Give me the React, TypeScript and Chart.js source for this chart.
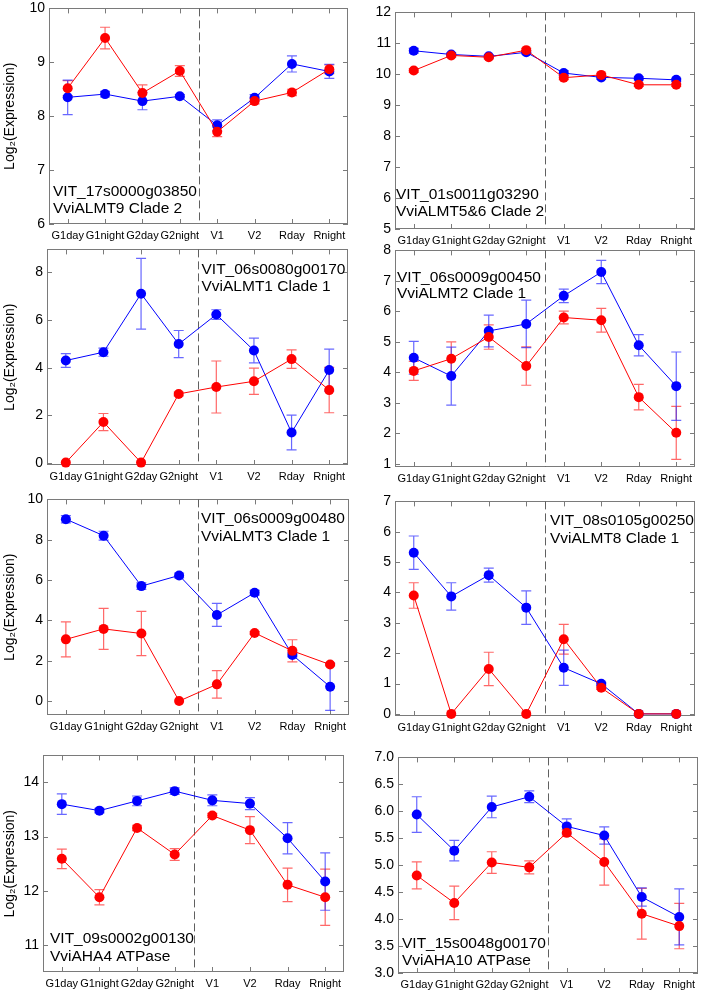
import React, { useEffect, useRef } from 'react';
import { Chart, registerables } from 'chart.js';

Chart.register(...registerables);

const FONT = '"Liberation Sans", Arial, Helvetica, sans-serif';

// ---------- data ----------
const categories = ['G1day', 'G1night', 'G2day', 'G2night', 'V1', 'V2', 'Rday', 'Rnight'];

// VIT_17s0000g03850 VviALMT9 Clade 2
const alm9Blue = [8.35, 8.41, 8.28, 8.37, 7.83, 8.34, 8.97, 8.83];
const alm9BlueErr = [0.32, 0.05, 0.16, 0.03, 0.1, 0.06, 0.15, 0.13];
const alm9Red = [8.52, 9.45, 8.43, 8.84, 7.71, 8.28, 8.44, 8.87];
const alm9RedErr = [0.14, 0.2, 0.15, 0.1, 0.09, 0.05, 0.06, 0.08];
const alm9Ticks = [6, 7, 8, 9, 10];

// VIT_01s0011g03290 VviALMT5&6 Clade 2
const alm56Blue = [10.76, 10.64, 10.58, 10.71, 10.04, 9.9, 9.87, 9.82];
const alm56BlueErr = [0.08, 0.05, 0.05, 0.05, 0.08, 0.06, 0.05, 0.05];
const alm56Red = [10.12, 10.61, 10.55, 10.78, 9.89, 9.98, 9.66, 9.66];
const alm56RedErr = [0.06, 0.06, 0.05, 0.06, 0.06, 0.05, 0.05, 0.05];
const alm56Ticks = [5, 6, 7, 8, 9, 10, 11, 12];

// VIT_06s0080g00170 VviALMT1 Clade 1
const alm1Blue = [4.3, 4.65, 7.1, 4.99, 6.23, 4.72, 1.28, 3.9];
const alm1BlueErr = [0.29, 0.17, 1.48, 0.57, 0.2, 0.52, 0.73, 0.88];
const alm1Red = [0.02, 1.72, 0.02, 2.9, 3.19, 3.43, 4.36, 3.06];
const alm1RedErr = [0, 0.36, 0, 0.08, 1.09, 0.55, 0.39, 0.95];
const alm1Ticks = [0, 2, 4, 6, 8];

// VIT_06s0009g00450 VviALMT2 Clade 1
const alm2Blue = [4.48, 3.88, 5.36, 5.59, 6.51, 7.29, 4.89, 3.55];
const alm2BlueErr = [0.54, 0.95, 0.52, 0.78, 0.22, 0.38, 0.35, 1.12];
const alm2Red = [4.05, 4.45, 5.16, 4.21, 5.8, 5.71, 3.19, 2.02];
const alm2RedErr = [0.31, 0.55, 0.4, 0.63, 0.21, 0.39, 0.42, 0.87];
const alm2Ticks = [1, 2, 3, 4, 5, 6, 7, 8];

// VIT_06s0009g00480 VviALMT3 Clade 1
const alm3Blue = [9.02, 8.2, 5.7, 6.23, 4.27, 5.37, 2.29, 0.71];
const alm3BlueErr = [0.18, 0.22, 0.16, 0.12, 0.57, 0.12, 0.1, 1.17];
const alm3Red = [3.06, 3.58, 3.35, 0, 0.83, 3.38, 2.49, 1.81];
const alm3RedErr = [0.87, 1.02, 1.1, 0, 0.68, 0.07, 0.55, 0.05];
const alm3Ticks = [0, 2, 4, 6, 8, 10];

// VIT_08s0105g00250 VviALMT8 Clade 1
const alm8Blue = [5.31, 3.87, 4.57, 3.5, 1.52, 0.99, 0, 0];
const alm8BlueErr = [0.55, 0.45, 0.23, 0.55, 0.58, 0.05, 0, 0];
const alm8Red = [3.9, 0, 1.48, 0, 2.46, 0.86, 0, 0];
const alm8RedErr = [0.42, 0, 0.55, 0, 0.49, 0.05, 0, 0];
const alm8Ticks = [0, 1, 2, 3, 4, 5, 6, 7];

// VIT_09s0002g00130 VviAHA4 ATPase
const aha4Blue = [13.6, 13.48, 13.66, 13.84, 13.67, 13.61, 12.97, 12.17];
const aha4BlueErr = [0.19, 0.04, 0.09, 0.06, 0.1, 0.11, 0.29, 0.53];
const aha4Red = [12.59, 11.88, 13.16, 12.67, 13.39, 13.12, 12.11, 11.88];
const aha4RedErr = [0.18, 0.14, 0.05, 0.11, 0.04, 0.25, 0.31, 0.52];
const aha4Ticks = [11, 12, 13, 14];

// VIT_15s0048g00170 VviAHA10 ATPase
const aha10Blue = [5.94, 5.27, 6.08, 6.27, 5.72, 5.55, 4.41, 4.04];
const aha10BlueErr = [0.33, 0.19, 0.2, 0.11, 0.14, 0.16, 0.17, 0.52];
const aha10Red = [4.81, 4.3, 5.05, 4.96, 5.6, 5.06, 4.1, 3.87];
const aha10RedErr = [0.25, 0.31, 0.2, 0.12, 0.06, 0.43, 0.47, 0.42];
const aha10Ticks = [3.0, 3.5, 4.0, 4.5, 5.0, 5.5, 6.0, 6.5, 7.0];

// ---------- styles ----------
const BLUE = '#0000ff';
const RED = '#ff0000';
const BLUE_ERR = 'rgba(40,40,255,0.7)';
const RED_ERR = 'rgba(255,40,40,0.7)';
const FRAME = '#7a7a7a';
const DASH = '#606060';

type Panel = {
  gene: string;
  name: string;
  blue: number[];
  blueErr: number[];
  red: number[];
  redErr: number[];
  yTicks: number[];
  yMin: number;
  yMax: number;
  decimals: number;
  showTitle: boolean;
  canvasLeft: number;
  plot: { left: number; top: number; right: number; bottom: number };
  label: { anchor: 'left' | 'dash'; dx: number; y1: number; y2: number };
};

const panels: Panel[] = [
  {
    gene: 'VIT_17s0000g03850', name: 'VviALMT9 Clade 2',
    blue: alm9Blue, blueErr: alm9BlueErr, red: alm9Red, redErr: alm9RedErr,
    yTicks: alm9Ticks, yMin: 6, yMax: 10, decimals: 0, showTitle: true,
    canvasLeft: 0, plot: { left: 49, top: 6, right: 351, bottom: 224 },
    label: { anchor: 'left', dx: 4, y1: 188, y2: 205 },
  },
  {
    gene: 'VIT_01s0011g03290', name: 'VviALMT5&6 Clade 2',
    blue: alm56Blue, blueErr: alm56BlueErr, red: alm56Red, redErr: alm56RedErr,
    yTicks: alm56Ticks, yMin: 5, yMax: 12, decimals: 0, showTitle: false,
    canvasLeft: 360, plot: { left: 395, top: 10, right: 698, bottom: 229 },
    label: { anchor: 'left', dx: 1, y1: 187, y2: 204 },
  },
  {
    gene: 'VIT_06s0080g00170', name: 'VviALMT1 Clade 1',
    blue: alm1Blue, blueErr: alm1BlueErr, red: alm1Red, redErr: alm1RedErr,
    yTicks: alm1Ticks, yMin: -0.08, yMax: 8.96, decimals: 0, showTitle: true,
    canvasLeft: 0, plot: { left: 47, top: 247, right: 351, bottom: 465 },
    label: { anchor: 'dash', dx: 4, y1: 25, y2: 41.5 },
  },
  {
    gene: 'VIT_06s0009g00450', name: 'VviALMT2 Clade 1',
    blue: alm2Blue, blueErr: alm2BlueErr, red: alm2Red, redErr: alm2RedErr,
    yTicks: alm2Ticks, yMin: 0.9, yMax: 8, decimals: 0, showTitle: false,
    canvasLeft: 360, plot: { left: 395, top: 248, right: 698, bottom: 467 },
    label: { anchor: 'left', dx: 2, y1: 31.4, y2: 48 },
  },
  {
    gene: 'VIT_06s0009g00480', name: 'VviALMT3 Clade 1',
    blue: alm3Blue, blueErr: alm3BlueErr, red: alm3Red, redErr: alm3RedErr,
    yTicks: alm3Ticks, yMin: -0.69, yMax: 10, decimals: 0, showTitle: true,
    canvasLeft: 0, plot: { left: 47, top: 497, right: 352, bottom: 715 },
    label: { anchor: 'dash', dx: 3, y1: 24, y2: 41.4 },
  },
  {
    gene: 'VIT_08s0105g00250', name: 'VviALMT8 Clade 1',
    blue: alm8Blue, blueErr: alm8BlueErr, red: alm8Red, redErr: alm8RedErr,
    yTicks: alm8Ticks, yMin: -0.07, yMax: 7, decimals: 0, showTitle: false,
    canvasLeft: 360, plot: { left: 395, top: 499, right: 698, bottom: 716 },
    label: { anchor: 'dash', dx: 5, y1: 24, y2: 42 },
  },
  {
    gene: 'VIT_09s0002g00130', name: 'VviAHA4 ATPase',
    blue: aha4Blue, blueErr: aha4BlueErr, red: aha4Red, redErr: aha4RedErr,
    yTicks: aha4Ticks, yMin: 10.5, yMax: 14.5, decimals: 0, showTitle: true,
    canvasLeft: 0, plot: { left: 43, top: 753, right: 347, bottom: 972 },
    label: { anchor: 'left', dx: 7, y1: 188, y2: 206 },
  },
  {
    gene: 'VIT_15s0048g00170', name: 'VviAHA10 ATPase',
    blue: aha10Blue, blueErr: aha10BlueErr, red: aha10Red, redErr: aha10RedErr,
    yTicks: aha10Ticks, yMin: 3, yMax: 7, decimals: 1, showTitle: false,
    canvasLeft: 360, plot: { left: 398, top: 755, right: 701, bottom: 973 },
    label: { anchor: 'left', dx: 4, y1: 191, y2: 208 },
  },
];

const decorPlugin = {
  id: 'decor',
  beforeDatasetsDraw(chart: any, _args: any, opts: any) {
    const { ctx, chartArea: a, scales } = chart;
    const x = scales.x;
    const y = scales.y;
    ctx.save();
    // frame
    ctx.strokeStyle = FRAME;
    ctx.lineWidth = 1;
    ctx.setLineDash([]);
    ctx.strokeRect(Math.round(a.left) + 0.5, Math.round(a.top) + 0.5, Math.round(a.right - a.left) - 1, Math.round(a.bottom - a.top) - 1);
    // inward tick marks
    const tl = 5;
    ctx.beginPath();
    y.ticks.forEach((t: any) => {
      const py = Math.round(y.getPixelForValue(t.value)) + 0.5;
      ctx.moveTo(a.left, py); ctx.lineTo(a.left + tl, py);
      ctx.moveTo(a.right, py); ctx.lineTo(a.right - tl, py);
    });
    categories.forEach((_c, i) => {
      const px = Math.round(x.getPixelForValue(i)) + 0.5;
      ctx.moveTo(px, a.top); ctx.lineTo(px, a.top + tl);
      ctx.moveTo(px, a.bottom); ctx.lineTo(px, a.bottom - tl);
    });
    ctx.stroke();
    // dashed separator between G2night and V1
    const dx = Math.round(x.getPixelForValue(3.5)) + 0.5;
    ctx.strokeStyle = DASH;
    ctx.setLineDash([8, 4]);
    ctx.beginPath();
    ctx.moveTo(dx, a.top);
    ctx.lineTo(dx, a.bottom);
    ctx.stroke();
    ctx.setLineDash([]);
    // error bars
    chart.data.datasets.forEach((ds: any, di: number) => {
      const meta = chart.getDatasetMeta(di);
      const errs: number[] = opts.errors[di];
      ctx.strokeStyle = opts.errColors[di];
      ctx.lineWidth = 1.2;
      ctx.beginPath();
      ds.data.forEach((v: number, i: number) => {
        const e = errs[i];
        if (!e) return;
        const px = meta.data[i].x;
        const yt = y.getPixelForValue(v + e);
        const yb = y.getPixelForValue(v - e);
        ctx.moveTo(px, yt); ctx.lineTo(px, yb);
        ctx.moveTo(px - 5, yt); ctx.lineTo(px + 5, yt);
        ctx.moveTo(px - 5, yb); ctx.lineTo(px + 5, yb);
      });
      ctx.stroke();
    });
    ctx.restore();
  },
  afterDatasetsDraw(chart: any, _args: any, opts: any) {
    const { ctx, chartArea: a, scales } = chart;
    const dashX = scales.x.getPixelForValue(3.5);
    const lx = (opts.anchor === 'dash' ? dashX : a.left) + opts.dx;
    ctx.save();
    ctx.fillStyle = '#000';
    ctx.font = `15.5px ${FONT}`;
    ctx.textAlign = 'left';
    ctx.textBaseline = 'alphabetic';
    ctx.fillText(opts.gene, lx, a.top + opts.y1);
    ctx.fillText(opts.name, lx, a.top + opts.y2);
    ctx.restore();
  },
};

function PanelChart({ cfg }: { cfg: Panel }) {
  const ref = useRef<HTMLCanvasElement>(null);
  const padTop = 10;
  const padRight = 2;
  const xAxisH = 22;
  const axisW = cfg.plot.left - cfg.canvasLeft;
  const width = axisW + (cfg.plot.right - cfg.plot.left) + padRight;
  const height = padTop + (cfg.plot.bottom - cfg.plot.top) + xAxisH;

  useEffect(() => {
    if (!ref.current) return;
    const chart = new Chart(ref.current, {
      type: 'line',
      data: {
        labels: categories,
        datasets: [
          {
            label: 'red', data: cfg.red, borderColor: RED, backgroundColor: RED,
            pointBackgroundColor: RED, pointBorderWidth: 0, pointRadius: 5, pointHoverRadius: 5,
            borderWidth: 1, tension: 0, clip: false,
          } as any,
          {
            label: 'blue', data: cfg.blue, borderColor: BLUE, backgroundColor: BLUE,
            pointBackgroundColor: BLUE, pointBorderWidth: 0, pointRadius: 5, pointHoverRadius: 5,
            borderWidth: 1, tension: 0, clip: false,
          } as any,
        ],
      },
      options: {
        responsive: false,
        animation: false,
        events: [],
        layout: { padding: { top: padTop, right: padRight, left: 0, bottom: 0 } },
        plugins: {
          legend: { display: false },
          tooltip: { enabled: false },
          decor: {
            errors: [cfg.redErr, cfg.blueErr],
            errColors: [RED_ERR, BLUE_ERR],
            gene: cfg.gene,
            name: cfg.name,
            anchor: cfg.label.anchor,
            dx: cfg.label.dx,
            y1: cfg.label.y1,
            y2: cfg.label.y2,
          },
        } as any,
        scales: {
          x: {
            type: 'category',
            offset: true,
            grid: { display: false, drawTicks: false },
            border: { display: false },
            ticks: {
              autoSkip: false, maxRotation: 0, minRotation: 0, padding: 5,
              color: '#000', font: { family: FONT, size: 11 },
            },
            afterFit: (s: any) => { s.height = xAxisH; },
          },
          y: {
            type: 'linear',
            min: cfg.yMin,
            max: cfg.yMax,
            grid: { display: false, drawTicks: false },
            border: { display: false },
            ticks: {
              padding: 4, color: '#000', font: { family: FONT, size: 14 },
              callback: (v: any) => Number(v).toFixed(cfg.decimals),
            },
            afterBuildTicks: (s: any) => { s.ticks = cfg.yTicks.map((v) => ({ value: v })); },
            afterFit: (s: any) => { s.width = axisW; },
            title: {
              display: cfg.showTitle,
              text: 'Log\u2082(Expression)',
              color: '#000',
              font: { family: FONT, size: 14 },
              padding: { top: 2, bottom: 0 },
            },
          },
        },
      } as any,
      plugins: [decorPlugin as any],
    });
    return () => chart.destroy();
  }, []);

  return (
    <canvas
      ref={ref}
      width={width}
      height={height}
      style={{ position: 'absolute', left: cfg.canvasLeft, top: cfg.plot.top - padTop, width, height }}
    />
  );
}

export default function App() {
  return (
    <div style={{ position: 'absolute', left: 0, top: 0, width: 703, height: 992, overflow: 'hidden', background: '#fff' }}>
      {panels.map((p, i) => (
        <PanelChart key={i} cfg={p} />
      ))}
    </div>
  );
}
